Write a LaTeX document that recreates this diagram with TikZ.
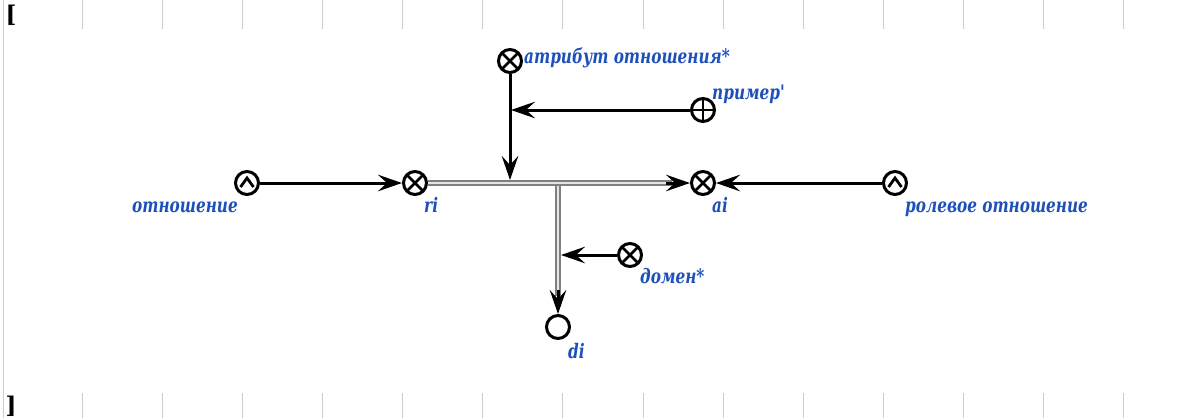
\documentclass[tikz,border=0pt]{standalone}
\usepackage{fontspec}
\setmainfont{DejaVu Serif}
\newfontfamily\lblfont[FakeStretch=0.85]{DejaVu Serif Condensed}
\usetikzlibrary{arrows.meta}
\definecolor{lblblue}{RGB}{30,80,185}
\definecolor{tickgray}{RGB}{205,205,205}
\tikzset{
  sym/.style={circle, draw, line width=3pt, minimum size=23pt, inner sep=0pt},
  otimes/.style={sym, path picture={\draw[line width=2.8pt]
     (path picture bounding box.north west)--(path picture bounding box.south east)
     (path picture bounding box.north east)--(path picture bounding box.south west);}},
  oplus/.style={sym, path picture={\draw[line width=2.8pt]
     (path picture bounding box.north)--(path picture bounding box.south)
     (path picture bounding box.east)--(path picture bounding box.west);}},
  owedge/.style={sym, path picture={\draw[line width=2.8pt, line join=miter]
     ([shift={(-6.5pt,-4pt)}]path picture bounding box.center) --
     ([shift={(0pt,5pt)}]path picture bounding box.center) --
     ([shift={(6.5pt,-4pt)}]path picture bounding box.center);}},
  lbl/.style={text=lblblue, font=\lblfont\bfseries\itshape\fontsize{20}{22}\selectfont, inner sep=0pt},
  arr/.style={line width=3pt, -{Stealth[length=24pt, width=16.5pt, inset=9pt]}},
  dbl/.style={draw=black!50, double=black!10, double distance=2.4pt, line width=2pt},
  tick/.style={draw=tickgray, line width=1pt},
}
\begin{document}
\begin{tikzpicture}[x=1pt, y=-1pt]
\fill[white] (0,0) rectangle (1187,418);
\useasboundingbox (0,0) rectangle (1187,418);
% frame marks
\draw[tick] (3,0) -- (3,418);
\foreach \i in {0,...,13} {
  \draw[tick] ({82+80.15*\i},0) -- ({82+80.15*\i},29);
  \draw[tick] ({82+80.15*\i},393) -- ({82+80.15*\i},418);
}
\node[font=\bfseries\fontsize{23}{25}\selectfont, inner sep=0pt] (lb) at (11,15) {[};
\node[font=\bfseries\fontsize{23}{25}\selectfont, inner sep=0pt] (rb) at (11,406) {]};

% symbols
\node[owedge] (rel) at (247,183) {};
\node[otimes] (ri) at (415,183) {};
\node[otimes] (ai) at (703,183) {};
\node[owedge] (role) at (895,183) {};
\node[otimes] (attr) at (510,61) {};
\node[oplus] (ex) at (703,110) {};
\node[otimes] (dom) at (630,255) {};
\node[sym] (di) at (558,327) {};

% junction points
\coordinate (j1) at (510,180);
\coordinate (j2) at (511,110);
\coordinate (t) at (558,183);
\coordinate (j3) at (561,255);

% labels
\node[lbl, anchor=base east] (relL) at (238,212) {отношение};
\node[lbl, anchor=base west] (riL) at (424,212) {ri};
\node[lbl, anchor=base west] (aiL) at (712,212) {ai};
\node[lbl, anchor=base west] (roleL) at (905,212) {ролевое отношение};
\node[lbl, anchor=base west] (attrL) at (524,63) {атрибут отношения*};
\node[lbl, anchor=base west] (exL) at (712,99) {пример'};
\node[lbl, anchor=base west] (domL) at (640,283) {домен*};
\node[lbl, anchor=base west] (diL) at (568,358) {di};

% double lines
\draw[dbl] (t) -- ([yshift=18pt]di.north);
\draw[dbl] (ri.east) -- ([xshift=-18pt]ai.west);
\draw[arr] ([yshift=24pt]di.north) -- (di.north);
\draw[arr] ([xshift=-24pt]ai.west) -- (ai.west);

% black connectors
\draw[arr] (rel.east) -- (ri.west);
\draw[arr] (role.west) -- (ai.east);
\draw[arr] (attr.south) -- (j1);
\draw[arr] (ex.west) -- (j2);
\draw[arr] (dom.west) -- (j3);
\end{tikzpicture}
\end{document}
